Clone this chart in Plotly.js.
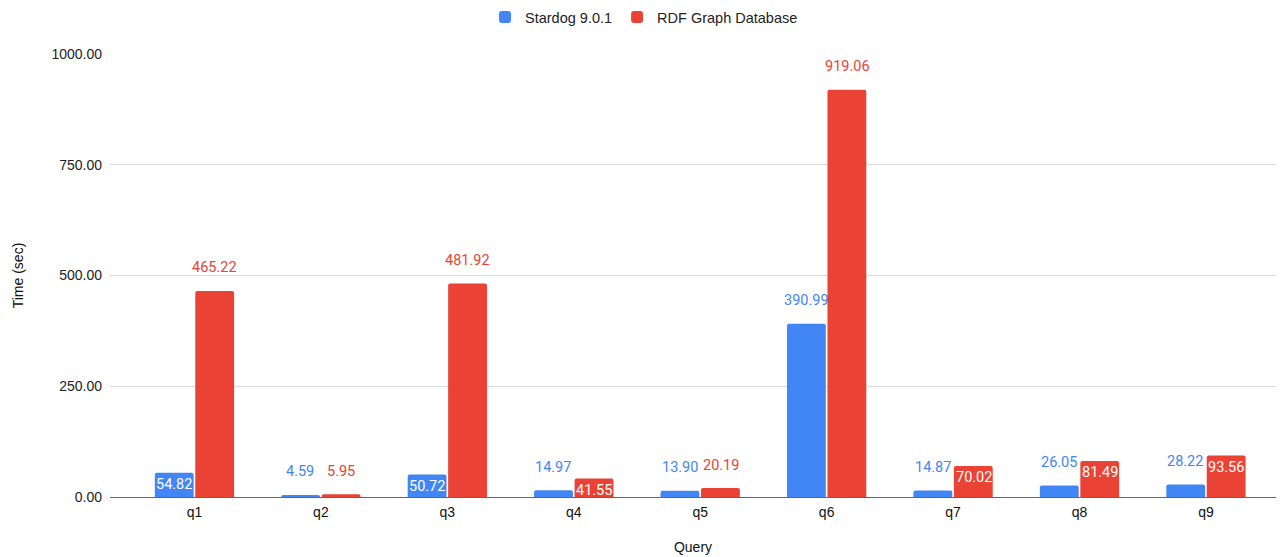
<!DOCTYPE html>
<html>
<head>
<meta charset="utf-8">
<script src="https://cdn.plot.ly/plotly-3.0.1.min.js"></script>
<style>
  html, body { margin: 0; padding: 0; background: #fff; }
  #chart { width: 1288px; height: 557px; }
</style>
</head>
<body>
<div id="chart"></div>
<script>
// Query timings (seconds)
const queries = ['q1', 'q2', 'q3', 'q4', 'q5', 'q6', 'q7', 'q8', 'q9'];
const stardog = [54.82, 4.59, 50.72, 14.97, 13.90, 390.99, 14.87, 26.05, 28.22];
const rdfGraph = [465.22, 5.95, 481.92, 41.55, 20.19, 919.06, 70.02, 81.49, 93.56];
// Where each value label sits: inside the bar top or above it
const stardogLabelInside = [true, false, true, false, false, false, false, false, false];
const rdfLabelInside = [false, false, false, true, false, false, true, true, true];

const BLUE = '#4285F4';
const RED = '#EA4335';
const labelFont = 'Roboto, "Liberation Sans", Arial, sans-serif';
const axisFont = '"Liberation Sans", Arial, sans-serif';

const traces = [
  {
    type: 'bar', name: 'Stardog 9.0.1', x: queries, y: stardog,
    marker: { color: BLUE, line: { width: 0 } }, hoverinfo: 'x+y'
  },
  {
    type: 'bar', name: 'RDF Graph Database', x: queries, y: rdfGraph,
    marker: { color: RED, line: { width: 0 } }, hoverinfo: 'x+y'
  }
];

// Value labels, placed over each bar of the pair
function labelsFor(values, inside, color, shift) {
  return values.map((v, i) => ({
    x: queries[i], y: v, xref: 'x', yref: 'y',
    text: v.toFixed(2), showarrow: false,
    xshift: shift, yshift: inside[i] ? -12 : 23,
    yanchor: 'middle', xanchor: 'center',
    font: { family: labelFont, size: 14.5, color: inside[i] ? '#ffffff' : color }
  }));
}
const annotations = [
  ...labelsFor(stardog, stardogLabelInside, BLUE, -20.5),
  ...labelsFor(rdfGraph, rdfLabelInside, RED, 20.5)
];

const layout = {
  width: 1288, height: 557,
  paper_bgcolor: '#ffffff', plot_bgcolor: '#ffffff',
  margin: { l: 110, r: 12, t: 54, b: 60 },
  barmode: 'group', bargap: 0.36, bargroupgap: 0.04, barcornerradius: 2,
  font: { family: axisFont, size: 14, color: '#222222' },
  showlegend: true,
  legend: {
    orientation: 'h', xref: 'container', yref: 'container',
    x: 0.5, xanchor: 'center', y: 1 - 17 / 557, yanchor: 'middle',
    font: { family: axisFont, size: 14.5, color: '#222222' },
    itemclick: false
  },
  xaxis: {
    type: 'category', range: [-0.668, 8.554], fixedrange: true,
    showgrid: false, showline: false, zeroline: false,
    ticks: '', ticklabelstandoff: 5,
    tickfont: { family: axisFont, size: 14, color: '#111111' },
    title: { text: 'Query', font: { family: axisFont, size: 14, color: '#111111' }, standoff: 23 },
    automargin: false
  },
  yaxis: {
    range: [0, 1000], tickvals: [0, 250, 500, 750, 1000],
    ticktext: ['0.00', '250.00', '500.00', '750.00', '1000.00'],
    fixedrange: true, showgrid: true, gridcolor: '#dadada', gridwidth: 1,
    zeroline: true, zerolinecolor: '#666666', zerolinewidth: 1,
    showline: false, ticks: '', ticklabelstandoff: 7,
    tickfont: { family: axisFont, size: 14, color: '#222222' },
    title: { text: 'Time (sec)', font: { family: axisFont, size: 14, color: '#111111' }, standoff: 24 },
    automargin: false
  },
  annotations: annotations
};

Plotly.newPlot('chart', traces, layout, { displayModeBar: false, staticPlot: true });
</script>
</body>
</html>
